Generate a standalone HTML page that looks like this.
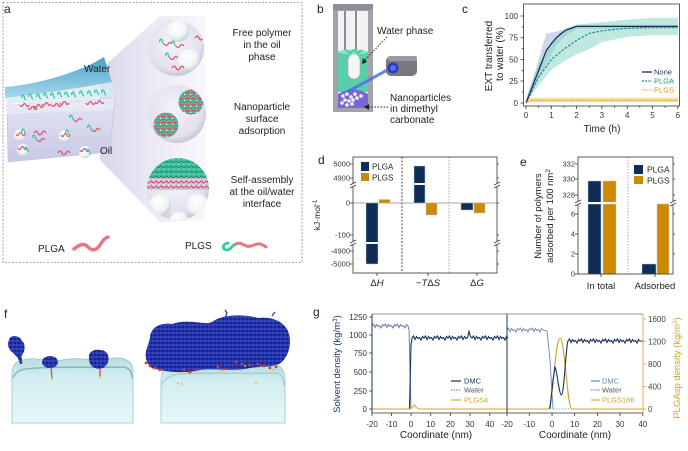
<!DOCTYPE html>
<html><head><meta charset="utf-8">
<style>
html,body{margin:0;padding:0;background:#fff;}
svg{display:block;font-family:"Liberation Sans",Arial,sans-serif;}
</style></head><body>
<svg width="688" height="451" viewBox="0 0 688 451" xmlns="http://www.w3.org/2000/svg">
<defs>
 <radialGradient id="cg" cx="0.45" cy="0.4" r="0.62">
  <stop offset="0" stop-color="#f4f3f9"/><stop offset="0.78" stop-color="#e3e1ee"/><stop offset="1" stop-color="#c4c1d4"/>
 </radialGradient>
 <radialGradient id="ball" cx="0.4" cy="0.35" r="0.65">
  <stop offset="0" stop-color="#ffffff"/><stop offset="0.7" stop-color="#eef4f2"/><stop offset="1" stop-color="#c4d2d0"/>
 </radialGradient>
 <linearGradient id="cone" x1="0" x2="1">
  <stop offset="0" stop-color="#d6d4ea" stop-opacity="0.95"/><stop offset="1" stop-color="#efeef7" stop-opacity="0.5"/>
 </linearGradient>
 <linearGradient id="water" x1="0" y1="0" x2="0" y2="1">
  <stop offset="0" stop-color="#4aa3cb"/><stop offset="1" stop-color="#a6d7ea"/>
 </linearGradient>
 <linearGradient id="oil" x1="0" y1="0" x2="0" y2="1">
  <stop offset="0" stop-color="#e4e4f5"/><stop offset="1" stop-color="#c8c8e6"/>
 </linearGradient>
 <linearGradient id="ice" x1="0" y1="0" x2="0" y2="1">
  <stop offset="0" stop-color="#b6dde0"/><stop offset="0.3" stop-color="#d3eef0"/><stop offset="1" stop-color="#e6f8f8"/>
 </linearGradient>
 <pattern id="mix" width="6" height="6" patternUnits="userSpaceOnUse">
  <rect width="6" height="6" fill="#d65a6c"/>
  <path d="M0,1.2 q1.5,-1.5 3,0 t3,0" stroke="#3ec9a7" stroke-width="1.4" fill="none"/>
  <path d="M0,4 q1.5,1.5 3,0" stroke="#3ec9a7" stroke-width="1.2" fill="none"/>
  <circle cx="4.6" cy="4.4" r="0.9" fill="#f0f0f0"/>
 </pattern>
 <pattern id="tealmix" width="5" height="5" patternUnits="userSpaceOnUse">
  <rect width="5" height="5" fill="#3dbf9e"/>
  <path d="M0,2 q1.2,-1.6 2.5,0 t2.5,0" stroke="#20866e" stroke-width="0.9" fill="none"/>
  <circle cx="3.8" cy="4" r="0.7" fill="#8fe5cf"/>
 </pattern>
 <pattern id="redmix" width="5" height="5" patternUnits="userSpaceOnUse">
  <rect width="5" height="5" fill="#d8d2e6"/>
  <path d="M0,2 q1.2,-1.8 2.5,0 t2.5,0" stroke="#d6475e" stroke-width="1.2" fill="none"/>
  <path d="M1,4.5 l1,-1" stroke="#3cb898" stroke-width="0.8"/>
 </pattern>
 <pattern id="blue" width="4" height="4" patternUnits="userSpaceOnUse">
  <rect width="4" height="4" fill="#2233a6"/>
  <circle cx="1" cy="1" r="1" fill="#3a4bd0"/>
  <circle cx="3" cy="3" r="0.9" fill="#10197a"/>
  <circle cx="3" cy="1" r="0.5" fill="#5566dd"/>
 </pattern>
 <path id="tq" d="M0,0 c-1,-2 1,-4 2,-2 s0,3 2,4" fill="none" stroke="#3cc6a4" stroke-width="1.3"/>
 <path id="rq" d="M0,0 c1,2 2,2 3,0 s2,-2 3,0 s2,2 3,0" fill="none" stroke="#e0566c" stroke-width="1.3"/>
 <g id="pg"><path d="M0,0 c-1,-2 1,-4 2,-2 s0,3 2,4" fill="none" stroke="#3cc6a4" stroke-width="1.3"/><path d="M4,2 c1.5,2 3,2 4,0 s2.5,-2 4,0" fill="none" stroke="#e0566c" stroke-width="1.3"/></g>
 <path id="pa" d="M0,0 c1.5,-2.5 3,-2.5 4,0 s2.5,2.5 4,0 s2.5,-2.5 4,0" fill="none" stroke="#e0566c" stroke-width="1.3"/>
 <clipPath id="c1"><circle cx="176" cy="48" r="28"/></clipPath>
 <clipPath id="c2"><circle cx="177" cy="114" r="29"/></clipPath>
 <clipPath id="c3"><circle cx="178" cy="189" r="31"/></clipPath>
</defs>

<!-- ================= PANEL A ================= -->
<rect x="3" y="2.5" width="299" height="260" fill="none" stroke="#8a8a8a" stroke-width="0.8" stroke-dasharray="2,1.5"/>
<text x="4" y="13" font-size="12" fill="#222">a</text>
<!-- cone -->
<path d="M100,70 L160,16 L205,16 L205,220 L160,222 L100,160 Z" fill="url(#cone)"/>
<!-- oil box -->
<path d="M7,105 L115,98 L110,152 L8,162 Z" fill="url(#oil)" stroke="#c0bfdc" stroke-width="0.6"/>
<path d="M7,105 L115,98 L113,110 L7,114 Z" fill="#e9e9f7" opacity="0.7"/>
<!-- water slab -->
<path d="M5,87 C40,84 80,72 104,57 L112,82 C80,88 40,94 5,98 Z" fill="url(#water)"/>
<path d="M5,98 C40,94 80,88 112,82 L114,97 L7,104 Z" fill="#d5eaf3" opacity="0.8"/>
<!-- interface polymers -->
<g>
 <use href="#tq" x="22" y="98"/><use href="#tq" x="29" y="97"/><use href="#tq" x="37" y="97"/><use href="#tq" x="44" y="96"/>
 <use href="#tq" x="51" y="96"/><use href="#tq" x="58" y="95"/><use href="#tq" x="65" y="95"/><use href="#tq" x="72" y="95"/>
 <use href="#tq" x="80" y="94"/><use href="#tq" x="88" y="94"/><use href="#tq" x="95" y="93"/><use href="#tq" x="102" y="93"/>
 <use href="#rq" x="20" y="105"/><use href="#rq" x="34" y="106"/><use href="#rq" x="42" y="104"/><use href="#rq" x="52" y="105"/>
 <use href="#rq" x="60" y="103"/><use href="#rq" x="86" y="103"/><use href="#rq" x="95" y="102"/><use href="#rq" x="28" y="108"/>
</g>
<!-- free polymers -->
<use href="#pg" x="70" y="118"/><use href="#pa" x="34" y="133"/><use href="#pg" x="88" y="128"/>
<use href="#pa" x="58" y="153"/><use href="#pg" x="33" y="138"/>
<!-- particles in oil -->
<g>
 <circle cx="20" cy="135" r="6" fill="url(#ball)"/><use href="#rq" x="16" y="134"/><use href="#tq" x="22" y="132"/>
 <circle cx="65" cy="136" r="6" fill="url(#ball)"/><use href="#rq" x="61" y="135"/><use href="#tq" x="66" y="133"/>
 <circle cx="23" cy="150" r="6" fill="url(#ball)"/><use href="#rq" x="18" y="148"/><use href="#tq" x="25" y="150"/>
 <circle cx="85" cy="152" r="6" fill="url(#ball)"/><use href="#rq" x="80" y="150"/><use href="#tq" x="87" y="152"/>
</g>
<text x="84" y="72" font-size="10" fill="#222">Water</text>
<text x="100" y="154" font-size="10" fill="#222">Oil</text>

<!-- circle 1 -->
<circle cx="176" cy="48" r="28" fill="url(#cg)"/>
<g clip-path="url(#c1)">
 <circle cx="178" cy="31" r="11" fill="url(#ball)"/>
 <circle cx="189" cy="60" r="11" fill="url(#ball)"/>
 <use href="#pg" x="160" y="42"/><use href="#pg" x="172" y="44"/><use href="#pa" x="195" y="38"/>
 <use href="#pg" x="166" y="56"/><use href="#pa" x="172" y="68"/>
</g>
<!-- circle 2 -->
<circle cx="177" cy="114" r="29" fill="url(#cg)"/>
<g clip-path="url(#c2)">
 <circle cx="191" cy="102" r="12.5" fill="url(#mix)"/>
 <circle cx="166" cy="125" r="12.5" fill="url(#mix)"/>
</g>
<!-- circle 3 -->
<circle cx="178" cy="189" r="31" fill="url(#cg)"/>
<g clip-path="url(#c3)">
 <rect x="145" y="155" width="70" height="24" fill="url(#tealmix)"/>
 <rect x="145" y="178" width="70" height="12" fill="url(#redmix)"/>
 <circle cx="160" cy="205" r="11" fill="url(#ball)"/>
 <circle cx="198" cy="205" r="11" fill="url(#ball)"/>
 <circle cx="179" cy="222" r="10" fill="url(#ball)"/>
</g>
<g font-size="10" fill="#222" text-anchor="middle">
 <text x="262" y="36">Free polymer</text><text x="262" y="48">in the oil</text><text x="262" y="60">phase</text>
 <text x="262" y="110">Nanoparticle</text><text x="262" y="122">surface</text><text x="262" y="134">adsorption</text>
 <text x="262" y="183">Self-assembly</text><text x="262" y="195">at the oil/water</text><text x="262" y="207">interface</text>
</g>
<text x="38" y="252" font-size="10" fill="#222">PLGA</text>
<path d="M74,249 C80,244 84,243 88,247 S96,251 100,245 S105,238 108,237" fill="none" stroke="#e87580" stroke-width="3.5" stroke-linecap="round"/>
<text x="185" y="249" font-size="10" fill="#222">PLGS</text>
<path d="M228,243 C222,244 222,250 227,250 C231,250 232,245 236,244" fill="none" stroke="#3ecba8" stroke-width="3" stroke-linecap="round"/>
<path d="M236,244 C242,241 245,248 251,246 S259,242 266,247" fill="none" stroke="#e87580" stroke-width="3" stroke-linecap="round"/>

<!-- ================= PANEL B ================= -->
<text x="317" y="13" font-size="12" fill="#222">b</text>
<rect x="333" y="4" width="40" height="108" fill="#a2a2aa"/>
<rect x="333" y="4" width="40" height="6" fill="#8e8e96"/>
<rect x="338" y="11" width="30" height="97" fill="#f2f2f5"/>
<rect x="344" y="11" width="2" height="43" fill="#8c8c94"/>
<rect x="355" y="11" width="2" height="43" fill="#8c8c94"/>
<rect x="338" y="52" width="30" height="40" fill="#5acdab"/>
<ellipse cx="353" cy="52" rx="15" ry="2.5" fill="#86e6c9"/>
<path d="M346,50 l4,3 l4,-3 l4,3 l4,-3" stroke="#3fd0a0" stroke-width="2" fill="none"/>
<path d="M338,108 V94 Q353,85 368,94 V108 Z" fill="#7a64d6"/>
<g fill="#f3f3ff">
 <circle cx="343" cy="96" r="1.8"/><circle cx="347" cy="94" r="1.8"/><circle cx="351" cy="97" r="1.8"/><circle cx="355" cy="94" r="1.8"/>
 <circle cx="345" cy="100" r="1.8"/><circle cx="349" cy="101" r="1.8"/><circle cx="353" cy="100" r="1.8"/><circle cx="357" cy="98" r="1.8"/>
 <circle cx="342" cy="103" r="1.8"/><circle cx="347" cy="105" r="1.8"/><circle cx="352" cy="104" r="1.8"/><circle cx="361" cy="96" r="1.8"/>
</g>
<rect x="348" y="54" width="12" height="25" rx="6" fill="#f5f5f5" stroke="#a8a8a8" stroke-width="0.6"/>
<line x1="391" y1="68" x2="347" y2="92" stroke="#4a72e8" stroke-width="3" opacity="0.85"/>
<rect x="386" y="56" width="31" height="20" rx="5" fill="#78787e"/>
<rect x="388" y="56" width="29" height="5" rx="2" fill="#9a9aa0"/>
<circle cx="393" cy="68" r="5.5" fill="#2a3ac0"/>
<circle cx="393" cy="68" r="3" fill="#4d70ff"/>
<path d="M387,37 L364,61" stroke="#222" stroke-width="0.9" stroke-dasharray="1.5,1.5"/>
<path d="M362,64 l1,-6 l4,4 z" fill="#222"/>
<path d="M388,107 H368" stroke="#222" stroke-width="0.9" stroke-dasharray="1.5,1.5"/>
<path d="M364,107 l5,-3 v6 z" fill="#222"/>
<g font-size="10" fill="#222">
 <text x="377" y="34">Water phase</text>
 <text x="390" y="101">Nanoparticles</text>
 <text x="390" y="112">in dimethyl</text>
 <text x="390" y="123">carbonate</text>
</g>

<!-- ================= PANEL C ================= -->
<text x="462" y="13" font-size="12" fill="#222">c</text>
<!-- bands -->
<polygon fill="#aebcd8" opacity="0.6" points="526,98.6 536.1,68.2 546.2,33.4 556.4,31.7 566.5,28.2 576.6,24.7 677.8,24.7 677.8,29 576.6,29 566.5,35.1 556.4,45.6 546.2,63.9 536.1,83.9 526,103"/>
<polygon fill="#8ad6c8" opacity="0.55" points="526,100.4 538.65,63.9 551.3,42.1 563.95,29.05 576.6,24.7 601.9,22.1 627.2,19.5 652.5,17.7 677.8,17.7 677.8,35.1 652.5,35.1 627.2,36.9 601.9,42.1 589.25,49.1 576.6,54.3 563.95,61.2 551.3,69.9 538.65,85.6 526,103"/>
<rect x="526" y="97.8" width="152" height="4.3" fill="#f2d68a" opacity="0.8"/>
<!-- lines -->
<polyline fill="none" stroke="#1b8f85" stroke-width="1.2" stroke-dasharray="2.5,1.5" points="526,103 538.65,76.9 551.3,59.5 563.95,49.1 576.6,40.4 589.25,33.4 601.9,30.8 627.2,28.2 652.5,27.3 677.8,27.3"/>
<polyline fill="none" stroke="#1a2f5c" stroke-width="1.3" points="526,103 531.06,90 536.1,76.9 541.2,63.9 546.2,50.8 551.3,43.8 556.4,37.75 561.4,33.4 566.5,29.9 571.5,28.2 576.6,26.4 677.8,26.4"/>
<polyline fill="none" stroke="#d09a18" stroke-width="1" stroke-dasharray="1.2,1" points="526,103 531,100.4 677.8,100.4"/>
<!-- axes -->
<rect x="523.5" y="4" width="156" height="102" fill="none" stroke="#333" stroke-width="0.8"/>
<g stroke="#333" stroke-width="0.8">
 <path d="M526,106v3M551.3,106v3M576.6,106v3M601.9,106v3M627.2,106v3M652.5,106v3M677.8,106v3"/>
 <path d="M538.6,106v1.8M564,106v1.8M589.2,106v1.8M614.5,106v1.8M639.8,106v1.8M665.1,106v1.8"/>
 <path d="M523.5,103h-3M523.5,81h-3M523.5,59.5h-3M523.5,37.75h-3M523.5,16h-3"/>
 <path d="M523.5,92h-1.8M523.5,70.3h-1.8M523.5,48.6h-1.8M523.5,26.9h-1.8"/>
</g>
<g font-size="8" fill="#333" text-anchor="middle">
 <text x="526" y="118">0</text><text x="551.3" y="118">1</text><text x="576.6" y="118">2</text><text x="601.9" y="118">3</text>
 <text x="627.2" y="118">4</text><text x="652.5" y="118">5</text><text x="677.8" y="118">6</text>
</g>
<g font-size="8" fill="#333" text-anchor="end">
 <text x="518" y="106">0</text><text x="518" y="84">25</text><text x="518" y="62.5">50</text><text x="518" y="40.7">75</text><text x="518" y="19">100</text>
</g>
<text x="602" y="132" font-size="10" fill="#222" text-anchor="middle">Time (h)</text>
<text transform="translate(492,56) rotate(-90)" font-size="10" fill="#222" text-anchor="middle">EXT transferred</text>
<text transform="translate(503,54) rotate(-90)" font-size="10" fill="#222" text-anchor="middle">to water (%)</text>
<line x1="642" y1="72" x2="652" y2="72" stroke="#1a2f5c" stroke-width="1.3"/>
<line x1="642" y1="81" x2="652" y2="81" stroke="#1b8f85" stroke-width="1.2" stroke-dasharray="2,1.2"/>
<line x1="642" y1="90" x2="652" y2="90" stroke="#d09a18" stroke-width="1" stroke-dasharray="1.2,1"/>
<g font-size="7.5">
 <text x="654" y="74.5" fill="#1a2f5c">None</text>
 <text x="654" y="83.5" fill="#1b9a8c">PLGA</text>
 <text x="654" y="92.5" fill="#d09a18">PLGS</text>
</g>

<!-- ================= PANEL D ================= -->
<text x="318" y="164" font-size="12" fill="#222">d</text>
<line x1="353" y1="203" x2="497" y2="203" stroke="#888" stroke-width="0.8"/>
<line x1="402" y1="157" x2="402" y2="273" stroke="#222" stroke-width="0.8" stroke-dasharray="2,1.5"/>
<line x1="449" y1="157" x2="449" y2="273" stroke="#999" stroke-width="0.8" stroke-dasharray="1.5,1.5"/>
<g stroke="#b9c6da" stroke-width="0.5">
 <rect x="366" y="203" width="12" height="61" fill="#102d58"/>
 <rect x="379" y="199.5" width="11" height="3.5" fill="#cc8a00"/>
 <rect x="414" y="166" width="11" height="37" fill="#102d58"/>
 <rect x="426" y="203" width="11" height="12" fill="#cc8a00"/>
 <rect x="461" y="203" width="12" height="7" fill="#102d58"/>
 <rect x="474" y="203" width="11" height="10" fill="#cc8a00"/>
</g>
<rect x="365" y="242" width="14" height="2" fill="#fff"/>
<rect x="413" y="183" width="13" height="2" fill="#fff"/>
<rect x="353" y="157" width="144" height="116" fill="none" stroke="#333" stroke-width="0.8"/>
<g stroke="#333" stroke-width="0.8">
 <path d="M353,164h-3M353,178h-3M353,203h-3M353,235h-3M353,251h-3M353,264h-3"/>
 <path d="M497,164h2M497,178h2M497,203h2M497,235h2M497,251h2M497,264h2"/>
 <path d="M377,273v3M428,273v3M477,273v3"/>
</g>
<g fill="#fff"><rect x="349" y="183" width="8" height="4"/><rect x="349" y="241" width="8" height="4"/><rect x="493" y="183" width="8" height="4"/><rect x="493" y="241" width="8" height="4"/></g>
<g stroke="#333" stroke-width="0.7">
 <path d="M350,185l6,-3M350,188l6,-3M350,243l6,-3M350,246l6,-3M494,185l6,-3M494,188l6,-3M494,243l6,-3M494,246l6,-3"/>
</g>
<g font-size="7.5" fill="#333" text-anchor="end">
 <text x="350" y="166.5">5000</text><text x="350" y="180.5">4900</text><text x="350" y="205.5">0</text>
 <text x="350" y="237.5">-100</text><text x="350" y="253.5">-4900</text><text x="350" y="266.5">-5000</text>
</g>
<text transform="translate(320,215) rotate(-90)" font-size="8.5" fill="#222" text-anchor="middle">kJ·mol<tspan dy="-3" font-size="6">-1</tspan></text>
<rect x="361" y="162" width="8" height="9" fill="#102d58"/>
<rect x="361" y="173" width="8" height="8" fill="#cc8a00"/>
<g font-size="8" fill="#222"><text x="372" y="169.5">PLGA</text><text x="372" y="180.5">PLGS</text></g>
<g font-size="9.5" fill="#222" text-anchor="middle" font-style="italic">
 <text x="377" y="286"><tspan font-style="normal">Δ</tspan>H</text>
 <text x="428" y="286"><tspan font-style="normal">−</tspan>T<tspan font-style="normal">Δ</tspan>S</text>
 <text x="477" y="286"><tspan font-style="normal">Δ</tspan>G</text>
</g>

<!-- ================= PANEL E ================= -->
<text x="520" y="166" font-size="12" fill="#222">e</text>
<line x1="628" y1="157" x2="628" y2="274" stroke="#999" stroke-width="0.8" stroke-dasharray="1.5,1.5"/>
<g stroke="#b9c6da" stroke-width="0.5">
 <rect x="588" y="181" width="13" height="93" fill="#102d58"/>
 <rect x="603" y="181" width="13" height="93" fill="#cc8a00"/>
 <rect x="642" y="264" width="14" height="10" fill="#102d58"/>
 <rect x="657" y="204" width="12" height="70" fill="#cc8a00"/>
</g>
<rect x="586" y="202" width="32" height="2.2" fill="#fff"/>
<rect x="578" y="157" width="95" height="117" fill="none" stroke="#333" stroke-width="0.8"/>
<g fill="#fff"><rect x="574" y="201" width="8" height="4"/><rect x="669" y="201" width="8" height="4"/></g>
<g stroke="#333" stroke-width="0.7"><path d="M575,203l6,-3M575,206l6,-3M670,203l6,-3M670,206l6,-3"/></g>
<g stroke="#333" stroke-width="0.8">
 <path d="M578,164h-3M578,179h-3M578,195h-3M578,214h-3M578,234h-3M578,254h-3M578,274h-3"/>
 <path d="M673,164h2M673,179h2M673,195h2M673,214h2M673,234h2M673,254h2"/>
 <path d="M601,274v3M655,274v3"/>
</g>
<g font-size="7.5" fill="#333" text-anchor="end">
 <text x="575" y="166.5">332</text><text x="575" y="181.5">330</text><text x="575" y="197.5">328</text>
 <text x="575" y="216.5">6</text><text x="575" y="236.5">4</text><text x="575" y="256.5">2</text><text x="575" y="276.5">0</text>
</g>
<rect x="634" y="165" width="9" height="9" fill="#102d58"/>
<rect x="634" y="176" width="9" height="8" fill="#cc8a00"/>
<g font-size="8.5" fill="#222"><text x="647" y="172.5">PLGA</text><text x="647" y="183.5">PLGS</text></g>
<g font-size="9.5" fill="#222" text-anchor="middle"><text x="601" y="289">In total</text><text x="655" y="289">Adsorbed</text></g>
<text transform="translate(541,216) rotate(-90)" font-size="9.5" fill="#222" text-anchor="middle">Number of polymers</text>
<text transform="translate(553,216) rotate(-90)" font-size="9.5" fill="#222" text-anchor="middle">adsorbed per 100 nm<tspan dy="-3" font-size="6.5">2</tspan></text>

<!-- ================= PANEL F ================= -->
<text x="4" y="318" font-size="12" fill="#222">f</text>
<path d="M12,423 V374 Q12,362 22,360 C38,356 46,363 62,360 C80,356 96,363 114,358 Q133,357 133,372 V423 Z" fill="url(#ice)" stroke="#9cc6ca" stroke-width="0.8"/>
<path d="M13,378 Q16,370 26,369 C50,366 90,368 124,367 Q132,369 132,378" fill="none" stroke="#7fa9ad" stroke-width="1.5" opacity="0.8"/>
<path d="M161,423 V380 Q161,366 176,365 C210,363 250,366 274,364 Q285,366 285,380 V423 Z" fill="url(#ice)" stroke="#9cc6ca" stroke-width="0.8"/>
<path d="M162,385 Q166,375 180,374 C215,372 250,374 278,373 Q284,376 284,386" fill="none" stroke="#9dc0c3" stroke-width="1.2" opacity="0.8"/>
<!-- left clusters -->
<path d="M9,340 C10,334 20,335 22,341 C26,344 25,352 22,355 C21,358 23,362 22,364 L20,364 C19,358 16,356 12,352 C8,349 7,344 9,340 Z" fill="url(#blue)"/>
<ellipse cx="50" cy="362" rx="8" ry="6" fill="url(#blue)"/>
<path d="M89,358 C88,352 94,349 100,350 C107,350 110,356 108,362 C106,368 100,370 95,368 C90,366 89,362 89,358 Z" fill="url(#blue)"/>
<line x1="51" y1="367" x2="52" y2="378" stroke="#d24040" stroke-width="1.2"/>
<line x1="100" y1="368" x2="100" y2="376" stroke="#d24040" stroke-width="1.2"/>
<circle cx="52" cy="379" r="1" fill="#e8c030"/><circle cx="100" cy="377" r="1" fill="#e8c030"/>
<!-- right big blob -->
<path d="M150,338 C150,328 160,322 172,324 C190,318 205,326 212,322 C222,314 245,314 258,318 C272,316 286,322 289,334 C292,345 288,356 282,362 C275,368 262,366 250,368 C235,372 215,368 200,370 C185,374 165,372 152,368 C146,364 144,355 147,348 Z" fill="url(#blue)"/>
<path d="M225,318 l2,-5 l-2,-3" stroke="#2233a6" stroke-width="1.2" fill="none"/>
<path d="M272,316 l3,-4" stroke="#2233a6" stroke-width="1.2" fill="none"/>
<g fill="#d83a2a">
 <circle cx="146" cy="363" r="1.4"/><circle cx="150" cy="366" r="1.4"/><circle cx="155" cy="368" r="1.4"/><circle cx="160" cy="370" r="1.4"/>
 <circle cx="184" cy="370" r="1.4"/><circle cx="190" cy="372" r="1.4"/><circle cx="196" cy="370" r="1.4"/><circle cx="218" cy="367" r="1.4"/>
 <circle cx="224" cy="369" r="1.4"/><circle cx="236" cy="362" r="1.4"/><circle cx="242" cy="364" r="1.4"/><circle cx="250" cy="365" r="1.4"/>
 <circle cx="258" cy="364" r="1.4"/><circle cx="264" cy="366" r="1.4"/><circle cx="270" cy="368" r="1.4"/><circle cx="276" cy="367" r="1.4"/>
</g>
<g fill="#e8c030">
 <circle cx="153" cy="369" r="1"/><circle cx="188" cy="373" r="1"/><circle cx="222" cy="371" r="1"/><circle cx="245" cy="366" r="1"/>
 <circle cx="261" cy="367" r="1"/><circle cx="273" cy="370" r="1"/><circle cx="178" cy="383" r="1"/><circle cx="182" cy="384" r="1"/><circle cx="256" cy="383" r="1"/>
</g>

<!-- ================= PANEL G ================= -->
<text x="313" y="316" font-size="12" fill="#222">g</text>
<!-- left panel data -->
<path d="M372,326 l1.5,-2 1.5,3.5 1.5,-3 1.5,2 1.5,-1 1.5,2.5 1.5,-3.5 1.5,1.5 l1.5,-2 1.5,3.5 1.5,-3 1.5,2 1.5,-1 1.5,2.5 1.5,-3.5 1.5,1.5 l1.5,-2 1.5,3.5 1.5,-3 1.5,2 1.5,-1 1.5,2.5 1.5,-3.5 1.5,1.5 L409,330 L411,409" fill="none" stroke="#5876a0" stroke-width="0.9"/>
<path d="M372,409 L409.5,409 L411,345 L412,338 l1.5,-2 1.5,3.5 1.5,-3 1.5,2 1.5,-1 1.5,2.5 1.5,-3.5 1.5,1.5 l1.5,-2 1.5,3.5 1.5,-3 1.5,2 1.5,-1 1.5,2.5 1.5,-3.5 1.5,1.5 l1.5,-2 1.5,3.5 1.5,-3 1.5,2 1.5,-1 1.5,2.5 1.5,-3.5 1.5,1.5 l1.5,-2 1.5,3.5 1.5,-3 1.5,2 1.5,-1 1.5,2.5 1.5,-3.5 1.5,1.5 l1.5,-2 1.5,3.5 1.5,-3 1.5,2 1.5,-1 1.5,-6 1.5,5 1.5,1.5 l1.5,-2 1.5,3.5 1.5,-3 1.5,2 1.5,-1 1.5,2.5 1.5,-3.5 1.5,1.5 l1.5,-2 1.5,3.5 1.5,-3 1.5,2 1.5,-1 1.5,2.5 1.5,-3.5 1.5,1.5 l1.5,-2 1.5,3.5 1.5,-3 1.5,2 1.5,-1 1.5,2.5 1.5,-3.5 1.5,1.5" fill="none" stroke="#14305a" stroke-width="1.1"/>
<path d="M372,409 L409,409 Q412,409 414.5,405 Q417,409 420,409 L506,409" fill="none" stroke="#d9a020" stroke-width="1"/>
<!-- right panel data -->
<path d="M507,330 l1.5,-2 1.5,3.5 1.5,-3 1.5,2 1.5,-1 1.5,2.5 1.5,-3.5 1.5,1.5 l1.5,-2 1.5,3.5 1.5,-3 1.5,2 1.5,-1 1.5,2.5 1.5,-3.5 1.5,1.5 l1.5,-2 1.5,3.5 1.5,-3 1.5,2 1.5,-1 1.5,2.5 1.5,-3.5 1.5,1.5 L547,331 L550,360 L553,409" fill="none" stroke="#6a88b0" stroke-width="0.9"/>
<path d="M553,409 L643,409" fill="none" stroke="#6a88b0" stroke-width="0.8" stroke-dasharray="1.5,1.5"/>
<path d="M548,409 C553,409 555,338 560,338 C565,338 567,409 572,409 L643,409" fill="none" stroke="#d9a020" stroke-width="1.1"/>
<path d="M507,409 L507,409 L548,409" fill="none" stroke="#d9a020" stroke-width="1"/>
<path d="M550,409 L553,380 L555,367 C557,370 559,395 561.5,395 C564,395 566,345 568,341 l1.5,-2 1.5,3.5 1.5,-3 1.5,2 1.5,-1 1.5,2.5 1.5,-3.5 1.5,1.5 l1.5,-2 1.5,3.5 1.5,-3 1.5,2 1.5,-1 1.5,2.5 1.5,-3.5 1.5,1.5 l1.5,-2 1.5,3.5 1.5,-3 1.5,2 1.5,-1 1.5,2.5 1.5,-3.5 1.5,1.5 l1.5,-2 1.5,3.5 1.5,-3 1.5,2 1.5,-1 1.5,2.5 1.5,-3.5 1.5,1.5 l1.5,-2 1.5,3.5 1.5,-3 1.5,2 1.5,-1 1.5,2.5 1.5,-3.5 1.5,1.5 l1.5,-2 1.5,3.5 1.5,-3 1.5,2 1.5,-1 1.5,2.5 1.5,-3.5 1.5,1.5 l3,0" fill="none" stroke="#14305a" stroke-width="1.1"/>
<!-- frame -->
<line x1="372" y1="314" x2="643" y2="314" stroke="#777" stroke-width="0.8"/>
<line x1="372" y1="413" x2="643" y2="413" stroke="#333" stroke-width="0.8"/>
<line x1="372" y1="314" x2="372" y2="413" stroke="#1a3560" stroke-width="1"/>
<line x1="507" y1="314" x2="507" y2="413" stroke="#1a3560" stroke-width="1"/>
<line x1="643" y1="314" x2="643" y2="413" stroke="#d9b060" stroke-width="1"/>
<g stroke="#333" stroke-width="0.8">
 <path d="M372,413v3M391.5,413v3M411,413v3M430.7,413v3M450.4,413v3M470,413v3M489.8,413v3M507,413v3M529.3,413v3M552,413v3M574.7,413v3M597.4,413v3M620,413v3M642.8,413v3"/>
</g>
<g stroke="#1a3560" stroke-width="0.8"><path d="M372,317h-3M372,335h-3M372,353h-3M372,372h-3M372,391h-3M372,409h-3"/></g>
<g stroke="#d9a020" stroke-width="0.8"><path d="M643,319h3M643,341.5h3M643,364h3M643,386.5h3M643,409h3"/></g>
<g font-size="8" fill="#333" text-anchor="end">
 <text x="367" y="320">1250</text><text x="367" y="338">1000</text><text x="367" y="356">750</text>
 <text x="367" y="375">500</text><text x="367" y="394">250</text><text x="367" y="412">0</text>
</g>
<g font-size="8" fill="#444">
 <text x="648" y="322">1600</text><text x="648" y="344.5">1200</text><text x="648" y="367">800</text>
 <text x="648" y="389.5">400</text><text x="648" y="412">0</text>
</g>
<g font-size="8" fill="#333" text-anchor="middle">
 <text x="372" y="427">-20</text><text x="391.5" y="427">-10</text><text x="411" y="427">0</text><text x="430.7" y="427">10</text>
 <text x="450.4" y="427">20</text><text x="470" y="427">30</text><text x="489.8" y="427">40</text>
 <text x="507" y="427">-20</text><text x="529.3" y="427">-10</text><text x="552" y="427">0</text><text x="574.7" y="427">10</text>
 <text x="597.4" y="427">20</text><text x="620" y="427">30</text><text x="642.8" y="427">40</text>
</g>
<g font-size="10" fill="#222" text-anchor="middle"><text x="436" y="438">Coordinate (nm)</text><text x="575" y="438">Coordinate (nm)</text></g>
<text transform="translate(340,364) rotate(-90)" font-size="9.5" fill="#1a3560" text-anchor="middle">Solvent density (kg/m<tspan dy="-3" font-size="6.5">3</tspan><tspan dy="3">)</tspan></text>
<text transform="translate(680,368) rotate(-90)" font-size="9.5" fill="#d9a020" text-anchor="middle">PLGAsp density (kg/m<tspan dy="-3" font-size="6.5">3</tspan><tspan dy="3">)</tspan></text>
<!-- legends g -->
<line x1="451" y1="381" x2="461" y2="381" stroke="#14305a" stroke-width="1.2"/>
<line x1="451" y1="390" x2="461" y2="390" stroke="#5876a0" stroke-width="1" stroke-dasharray="1.5,1"/>
<line x1="451" y1="400" x2="461" y2="400" stroke="#d9a020" stroke-width="1.1"/>
<g font-size="7.5"><text x="464" y="383.5" fill="#1a3560">DMC</text><text x="464" y="392.5" fill="#555">Water</text><text x="464" y="402.5" fill="#d9a020">PLGS4</text></g>
<line x1="591" y1="381" x2="600" y2="381" stroke="#6a88b0" stroke-width="1.2"/>
<line x1="591" y1="390" x2="600" y2="390" stroke="#5876a0" stroke-width="1" stroke-dasharray="1.5,1"/>
<line x1="591" y1="400" x2="600" y2="400" stroke="#d9a020" stroke-width="1.1"/>
<g font-size="7.5"><text x="602" y="383.5" fill="#6a88b0">DMC</text><text x="602" y="392.5" fill="#555">Water</text><text x="602" y="402.5" fill="#d9a020">PLGS186</text></g>
</svg>
</body></html>
